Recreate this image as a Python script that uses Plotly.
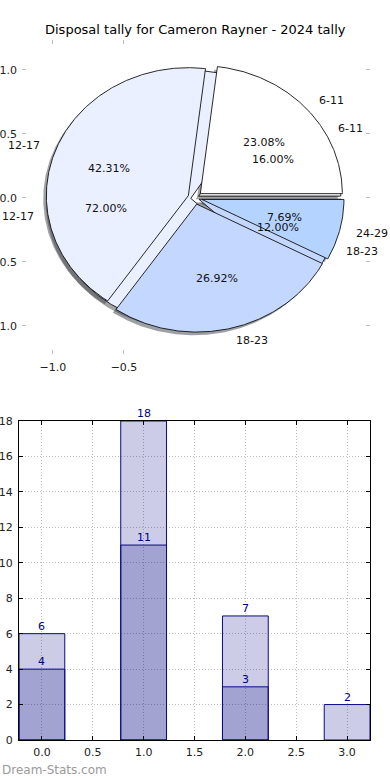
import numpy as np
import plotly.graph_objects as go

# ---------------- data ----------------
title_text = "Disposal tally for Cameron Rayner - 2024 tally"

pie1_labels = ["6-11", "12-17", "18-23", "24-29"]
pie1_values = [6, 11, 7, 2]
pie1_colors = ["#ffffff", "#eaf0ff", "#c4d8ff", "#b4d4ff"]

pie2_labels = ["6-11", "12-17", "18-23"]
pie2_values = [4, 18, 3]
pie2_colors = ["#ffffff", "#eaf0ff", "#c4d8ff"]

bar_light_x = [0, 1, 2, 3]
bar_light_y = [6, 18, 7, 2]
bar_dark_x = [0, 1, 2]
bar_dark_y = [4, 11, 3]

pie_yticks = [-1.0, -0.5, 0.0, 0.5, 1.0]
pie_xticks = [-1.0, -0.5]
bar_xticks = [0.0, 0.5, 1.0, 1.5, 2.0, 2.5, 3.0]
bar_yticks = [0, 2, 4, 6, 8, 10, 12, 14, 16, 18]

# ---------------- layout constants ----------------
W, H = 390, 780
FONT = "DejaVu Sans"


def px_x(p):
    return p / W


def px_y(p):
    return 1 - p / H


fig = go.Figure()


def wedge_geometry(values, explode):
    total = float(sum(values))
    fr = np.array(values, dtype=float) / total
    ends = np.cumsum(fr) * 360.0
    starts = np.concatenate([[0.0], ends[:-1]])
    out = []
    for t1, t2, f in zip(starts, ends, fr):
        mid = np.deg2rad((t1 + t2) / 2)
        cx, cy = explode * np.cos(mid), explode * np.sin(mid)
        th = np.deg2rad(np.linspace(t1, t2, max(int(t2 - t1) * 2, 8)))
        xs = np.concatenate([[cx], cx + np.cos(th), [cx]])
        ys = np.concatenate([[cy], cy + np.sin(th), [cy]])
        out.append((xs, ys, mid, cx, cy, f))
    return out


pies = [
    (pie2_labels, pie2_values, pie2_colors, 0.03),
    (pie1_labels, pie1_values, pie1_colors, 0.05),
]

geoms = [wedge_geometry(v, e) for (_, v, _, e) in pies]

# shadows first (below all wedges)
for (labels, values, colors, e), g in zip(pies, geoms):
    for (xs, ys, mid, cx, cy, f), col in zip(g, colors):
        r = int(col[1:3], 16) * 0.3
        gg = int(col[3:5], 16) * 0.3
        b = int(col[5:7], 16) * 0.3
        fig.add_trace(go.Scatter(
            x=xs - 0.022, y=ys - 0.025, mode="lines", fill="toself",
            fillcolor=f"rgba({r:.0f},{gg:.0f},{b:.0f},0.5)",
            line=dict(width=0, color="rgba(0,0,0,0)"),
            hoverinfo="skip", showlegend=False, xaxis="x", yaxis="y"))

# wedges
for (labels, values, colors, e), g in zip(pies, geoms):
    for (xs, ys, mid, cx, cy, f), col in zip(g, colors):
        fig.add_trace(go.Scatter(
            x=xs, y=ys, mode="lines", fill="toself", fillcolor=col,
            line=dict(width=0.9, color="#111111"),
            hoverinfo="skip", showlegend=False, xaxis="x", yaxis="y"))

# texts
annotations = []
for (labels, values, colors, e), g in zip(pies, geoms):
    for (xs, ys, mid, cx, cy, f), lab in zip(g, labels):
        lx = cx + 1.1 * np.cos(mid)
        ly = cy + 1.1 * np.sin(mid)
        annotations.append(dict(
            x=lx, y=ly, xref="x", yref="y", text=lab, showarrow=False,
            xanchor="left" if lx > 0 else "right", yanchor="middle",
            font=dict(family=FONT, size=11, color="#111111")))
        tx = cx + 0.6 * np.cos(mid)
        ty = cy + 0.6 * np.sin(mid)
        annotations.append(dict(
            x=tx, y=ty, xref="x", yref="y", text=f"{f * 100:.2f}%",
            showarrow=False, xanchor="center", yanchor="middle",
            font=dict(family=FONT, size=11, color="#111111")))

# bars
fig.add_trace(go.Bar(
    x=bar_light_x, y=bar_light_y, width=0.45,
    marker=dict(color="rgba(0,0,128,0.2)", line=dict(color="#0a0a88", width=1)),
    hoverinfo="skip", showlegend=False, xaxis="x2", yaxis="y2"))
fig.add_trace(go.Bar(
    x=bar_dark_x, y=bar_dark_y, width=0.45,
    marker=dict(color="rgba(0,0,128,0.2)", line=dict(color="#0a0a88", width=1)),
    hoverinfo="skip", showlegend=False, xaxis="x2", yaxis="y2"))

for xs_, ys_ in [(bar_light_x, bar_light_y), (bar_dark_x, bar_dark_y)]:
    for xv, yv in zip(xs_, ys_):
        annotations.append(dict(
            x=xv, y=yv, xref="x2", yref="y2", text=str(yv), showarrow=False,
            xanchor="center", yanchor="bottom", yshift=-1,
            font=dict(family=FONT, size=11, color="#000080")))

annotations.append(dict(
    x=0.5, y=px_y(30), xref="paper", yref="paper", text=title_text,
    showarrow=False, xanchor="center", yanchor="middle",
    font=dict(family=FONT, size=13, color="#000000")))
annotations.append(dict(
    x=px_x(0), y=px_y(770), xref="paper", yref="paper", text="Dream-Stats.com",
    showarrow=False, xanchor="left", yanchor="middle",
    font=dict(family=FONT, size=12, color="#9a9a9a")))

tickfont = dict(family=FONT, size=11, color="#222222")

fig.update_layout(
    width=W, height=H, template="none",
    margin=dict(l=0, r=0, t=0, b=0),
    paper_bgcolor="white", plot_bgcolor="white",
    barmode="overlay",
    annotations=annotations,
    xaxis=dict(
        domain=[px_x(22), px_x(370)], range=[-1.218, 1.232],
        tickvals=pie_xticks, tickformat=".1f", ticks="inside", ticklen=4,
        tickcolor="#bbbbbb", mirror="ticks", showline=False, showgrid=False,
        zeroline=False, automargin=False, tickfont=tickfont,
        ticklabelstandoff=5, fixedrange=True),
    yaxis=dict(
        domain=[px_y(354), px_y(40)], range=[-1.22, 1.234],
        tickvals=pie_yticks, tickformat=".1f", ticks="inside", ticklen=4,
        tickcolor="#bbbbbb", mirror="ticks", showline=False, showgrid=False,
        zeroline=False, automargin=False, tickfont=tickfont,
        ticklabelstandoff=4, fixedrange=True),
    xaxis2=dict(
        domain=[px_x(19), px_x(370)], range=[-0.225, 3.225], anchor="y2",
        tickvals=bar_xticks, tickformat=".1f", ticks="inside", ticklen=4,
        tickcolor="#000000", showline=True, linecolor="#000000", linewidth=1,
        mirror="ticks", showgrid=True, gridcolor="#bdbdbd", griddash="1px,2px",
        gridwidth=1, zeroline=False, automargin=False, tickfont=tickfont,
        ticklabelstandoff=2, fixedrange=True),
    yaxis2=dict(
        domain=[px_y(740), px_y(421)], range=[0, 18], anchor="x2",
        tickvals=bar_yticks, ticks="inside", ticklen=4,
        tickcolor="#000000", showline=True, linecolor="#000000", linewidth=1,
        mirror="ticks", showgrid=True, gridcolor="#bdbdbd", griddash="1px,2px",
        gridwidth=1, zeroline=False, automargin=False, tickfont=tickfont,
        ticklabelstandoff=3, fixedrange=True),
)

fig.write_html(
    "out.html",
    config={"displayModeBar": False, "staticPlot": True},
    post_script="document.body.style.margin='0';document.body.style.overflow='hidden';",
)
